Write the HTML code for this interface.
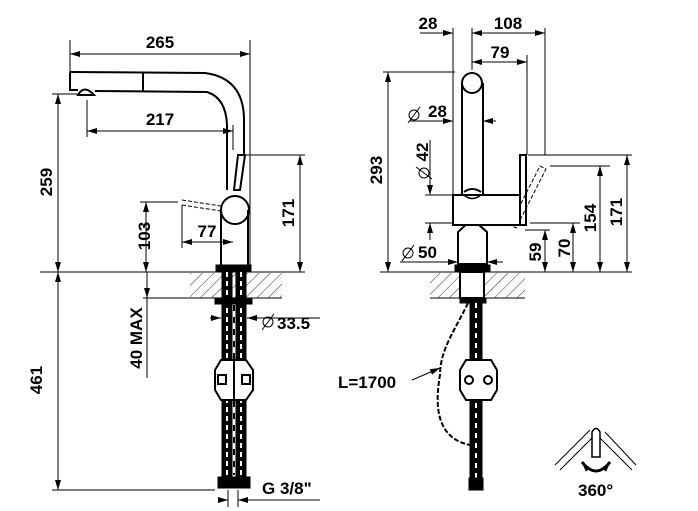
<!DOCTYPE html>
<html><head><meta charset="utf-8"><style>
html,body{margin:0;padding:0;background:#fff}
svg{display:block}
text{font-family:"Liberation Sans",sans-serif;font-weight:bold;font-size:17px;fill:#000}
</style></head><body>
<svg width="698" height="511" viewBox="0 0 698 511" xmlns="http://www.w3.org/2000/svg">
<defs>
<marker id="a" viewBox="0 0 10 6" refX="10" refY="3" markerWidth="10" markerHeight="6" orient="auto-start-reverse" markerUnits="userSpaceOnUse"><path d="M0,0L10,3L0,6z"/></marker>
<pattern id="h" width="8" height="8" patternUnits="userSpaceOnUse" patternTransform="rotate(45)"><line x1="0" y1="0" x2="0" y2="8" stroke="#000" stroke-width="0.8"/></pattern>
</defs>
<g stroke="#000" fill="none" stroke-width="1">
<!-- LEFT VIEW -->
<line x1="70" y1="40" x2="70" y2="72"/><line x1="250" y1="40" x2="250" y2="272"/>
<line x1="70" y1="54" x2="250" y2="54" marker-start="url(#a)" marker-end="url(#a)"/>
<path d="M70,72 L205,73 Q243,78 244,118 L244,155" stroke-width="2"/>
<path d="M70,72 L70,90 L78,90" stroke-width="2"/>
<path d="M95,91 L207,92 Q226,98 227,125 L227,190" stroke-width="2"/>
<line x1="143" y1="73" x2="143" y2="92" stroke-width="2"/>
<path d="M78,95 Q84,84 94,95 Z" stroke-width="2"/>
<line x1="52" y1="94" x2="80" y2="94"/>
<line x1="58" y1="94" x2="58" y2="272" marker-start="url(#a)" marker-end="url(#a)"/>
<line x1="87" y1="100" x2="87" y2="137"/><line x1="233" y1="125" x2="233" y2="150"/>
<line x1="87" y1="131" x2="233" y2="131" marker-start="url(#a)" marker-end="url(#a)"/>
<path d="M238,155 L245,155 L240,190 L234,190 Z" stroke-width="2"/>
<circle cx="235" cy="210" r="14" stroke-width="2"/>
<path d="M221,210 L221,265 M248,210 L248,265" stroke-width="2"/>
<rect x="216" y="265" width="35" height="6" fill="#000"/>
<line x1="243" y1="155" x2="305" y2="155"/>
<line x1="300" y1="155" x2="300" y2="272" marker-start="url(#a)" marker-end="url(#a)"/>
<line x1="140" y1="202" x2="178" y2="202"/>
<line x1="146" y1="202" x2="146" y2="272" marker-start="url(#a)" marker-end="url(#a)"/>
<path d="M182,200 L221,206 M182,205 L221,211" stroke-dasharray="4,2"/>
<line x1="182" y1="205" x2="182" y2="248"/>
<line x1="182" y1="242" x2="233" y2="242" marker-start="url(#a)" marker-end="url(#a)"/>
<line x1="40" y1="272" x2="305" y2="272"/>
<rect x="190" y="273" width="92" height="25" fill="url(#h)" stroke="none"/>
<line x1="190" y1="298" x2="282" y2="298"/>
<line x1="147" y1="272" x2="147" y2="378"/>
<line x1="147" y1="298" x2="147" y2="272" marker-start="url(#a)"/>
<line x1="143" y1="298" x2="228" y2="298"/>
<!-- hoses left -->
<rect x="222" y="272" width="10" height="208" fill="#000"/>
<rect x="236" y="272" width="10" height="208" fill="#000"/>
<line x1="227" y1="272" x2="227" y2="480" stroke="#fff" stroke-width="2" stroke-dasharray="5,4"/>
<line x1="241" y1="272" x2="241" y2="480" stroke="#fff" stroke-width="2" stroke-dasharray="5,4"/>
<line x1="234" y1="305" x2="234" y2="475" stroke-width="2" stroke-dasharray="6,6"/>
<rect x="215" y="298" width="37" height="6" fill="#000"/>
<path d="M221,360 L246,360 L253,370 L253,390 L246,400 L221,400 L215,390 L215,370 Z" fill="#fff" stroke-width="2"/>
<line x1="234" y1="360" x2="234" y2="400" stroke-width="2"/>
<rect x="218" y="375" width="8" height="9" stroke-width="2"/><rect x="242" y="375" width="8" height="9" stroke-width="2"/>
<rect x="218" y="477" width="32" height="11" fill="#000"/>
<line x1="210" y1="318" x2="221" y2="318" marker-end="url(#a)"/>
<line x1="262" y1="318" x2="247" y2="318" marker-end="url(#a)"/>
<line x1="262" y1="318" x2="320" y2="318"/>
<circle cx="268" cy="322" r="5"/><line x1="262" y1="330" x2="274" y2="314"/>
<line x1="52" y1="490" x2="215" y2="490"/>
<line x1="58" y1="272" x2="58" y2="490" marker-start="url(#a)" marker-end="url(#a)"/>
<line x1="228" y1="490" x2="228" y2="507"/><line x1="238" y1="490" x2="238" y2="507"/>
<line x1="220" y1="500" x2="228" y2="500" marker-end="url(#a)"/>
<line x1="320" y1="500" x2="238" y2="500" marker-end="url(#a)"/>
<!-- RIGHT VIEW -->
<line x1="453" y1="28" x2="453" y2="195"/><line x1="472" y1="28" x2="472" y2="70"/>
<line x1="545" y1="28" x2="545" y2="155"/><line x1="527" y1="55" x2="527" y2="155"/>
<line x1="420" y1="33" x2="453" y2="33" marker-end="url(#a)"/>
<line x1="472" y1="33" x2="545" y2="33" marker-start="url(#a)" marker-end="url(#a)"/>
<line x1="472" y1="62" x2="527" y2="62" marker-start="url(#a)" marker-end="url(#a)"/>
<circle cx="472" cy="83" r="10" stroke-width="2"/>
<path d="M462,83 L462,195 M483,83 L483,195" stroke-width="2"/>
<path d="M464,192 Q472,186 481,192" stroke-width="2"/>
<rect x="520" y="155" width="6" height="70" stroke-width="2"/>
<rect x="455" y="265" width="35" height="6" fill="#000"/>
<line x1="383" y1="72" x2="455" y2="72"/>
<line x1="388" y1="72" x2="388" y2="272" marker-start="url(#a)" marker-end="url(#a)"/>
<line x1="410" y1="121" x2="453" y2="121" marker-end="url(#a)"/>
<line x1="496" y1="121" x2="483" y2="121" marker-end="url(#a)"/>
<circle cx="414" cy="115" r="5"/><line x1="408" y1="123" x2="420" y2="107"/>
<line x1="425" y1="195" x2="455" y2="195"/><line x1="425" y1="223" x2="455" y2="223"/>
<line x1="430" y1="140" x2="430" y2="195" marker-end="url(#a)"/>
<line x1="430" y1="240" x2="430" y2="223" marker-end="url(#a)"/>
<circle cx="424" cy="173" r="5"/><line x1="416" y1="167" x2="432" y2="179"/>
<line x1="400" y1="262" x2="458" y2="262" marker-end="url(#a)"/>
<line x1="503" y1="262" x2="487" y2="262" marker-end="url(#a)"/>
<circle cx="408" cy="253" r="5"/><line x1="402" y1="261" x2="414" y2="245"/>
<path d="M510,225 L540,166 L546,169 L516,228 Z" stroke-dasharray="4,2"/>
<line x1="525" y1="230" x2="550" y2="230"/>
<line x1="545" y1="230" x2="545" y2="272" marker-start="url(#a)" marker-end="url(#a)"/>
<line x1="530" y1="223" x2="580" y2="223"/>
<line x1="573" y1="223" x2="573" y2="272" marker-start="url(#a)" marker-end="url(#a)"/>
<line x1="550" y1="166" x2="610" y2="166"/>
<line x1="600" y1="166" x2="600" y2="272" marker-start="url(#a)" marker-end="url(#a)"/>
<line x1="528" y1="155" x2="632" y2="155"/>
<line x1="627" y1="155" x2="627" y2="272" marker-start="url(#a)" marker-end="url(#a)"/>
<line x1="380" y1="272" x2="632" y2="272"/>
<rect x="430" y="273" width="95" height="25" fill="url(#h)" stroke="none"/>
<line x1="430" y1="298" x2="525" y2="298"/>
<rect x="460" y="272" width="24" height="26" fill="#fff" stroke-width="2"/>
<rect x="460" y="298" width="26" height="5" fill="#000"/>
<rect x="470" y="303" width="12" height="180" fill="#000"/>
<line x1="476" y1="303" x2="476" y2="480" stroke="#fff" stroke-width="2" stroke-dasharray="5,5"/>
<path d="M466,360 L491,360 L497,370 L497,390 L491,400 L466,400 L460,390 L460,370 Z" fill="#fff" stroke-width="2"/>
<circle cx="469" cy="380" r="4" stroke-width="2"/><circle cx="488" cy="380" r="4" stroke-width="2"/>
<rect x="469" y="478" width="14" height="12" fill="#000"/>
<path d="M468,303 C455,330 440,350 440,375 C432,420 445,440 470,445" stroke-width="2" stroke-dasharray="5,2"/>
<line x1="412" y1="380" x2="440" y2="368" marker-end="url(#a)"/>
<!-- 360 icon -->
<path d="M555,465 L590,430 M560,470 L592,438" stroke-width="1"/>
<path d="M600,438 L632,470 M605,432 L636,465" stroke-width="1"/>
<path d="M592,457 L592,432 Q596,425 600,432 L600,457 Z" stroke-width="1.5" fill="#fff"/>
<path d="M582,462 Q596,480 610,462" stroke-width="3" marker-start="url(#a)" marker-end="url(#a)"/>
</g>
<!-- right lower body drawn last, white filled -->
<path d="M458,264 L458,232 L472,219 L487,232 L487,264 Z" fill="#ffffff" stroke="#000" stroke-width="2"/>
<path d="M453,195 L520,195 L520,225 L453,225 Z" fill="#ffffff" stroke="#000" stroke-width="2"/>
<path d="M464,195 Q472,202 481,195" fill="none" stroke="#000" stroke-width="1.5"/>
<text x="160" y="48" text-anchor="middle">265</text>
<text x="160" y="125" text-anchor="middle">217</text>
<text x="207" y="237" text-anchor="middle">77</text>
<text transform="translate(52,182) rotate(-90)" text-anchor="middle">259</text>
<text transform="translate(150,236) rotate(-90)" text-anchor="middle">103</text>
<text transform="translate(294,213) rotate(-90)" text-anchor="middle">171</text>
<text transform="translate(142,338) rotate(-90)" text-anchor="middle">40 MAX</text>
<text transform="translate(42,380) rotate(-90)" text-anchor="middle">461</text>
<text x="277" y="329">33.5</text>
<text x="262" y="494">G 3/8"</text>
<text x="428" y="29" text-anchor="middle">28</text>
<text x="508" y="29" text-anchor="middle">108</text>
<text x="500" y="58" text-anchor="middle">79</text>
<text x="428" y="117">28</text>
<text transform="translate(382,170) rotate(-90)" text-anchor="middle">293</text>
<text transform="translate(428,152) rotate(-90)" text-anchor="middle">42</text>
<text x="418" y="258">50</text>
<text transform="translate(541,252) rotate(-90)" text-anchor="middle">59</text>
<text transform="translate(570,248) rotate(-90)" text-anchor="middle">70</text>
<text transform="translate(596,218) rotate(-90)" text-anchor="middle">154</text>
<text transform="translate(622,212) rotate(-90)" text-anchor="middle">171</text>
<text x="338" y="388">L=1700</text>
<text x="578" y="496" font-size="14">360°</text>
</svg>
</body></html>
